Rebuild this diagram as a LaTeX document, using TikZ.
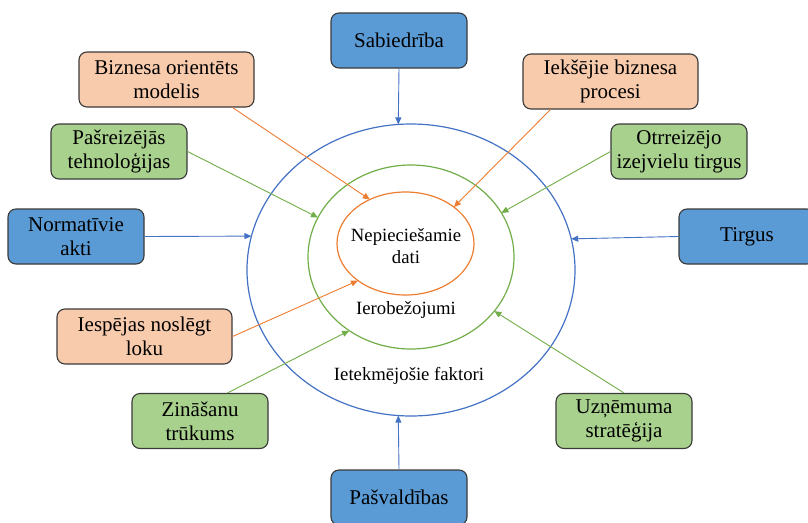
\documentclass[tikz,border=0pt]{standalone}
\usepackage{fontspec}
\setmainfont{Liberation Serif}
\newfontfamily\diagfont{Liberation Serif}
\usetikzlibrary{shapes.geometric,arrows.meta}
\definecolor{bluefill}{HTML}{5B9BD5}
\definecolor{orangefill}{HTML}{F8CBAD}
\definecolor{greenfill}{HTML}{A9D18E}
\definecolor{boxborder}{HTML}{3A3A3A}
\definecolor{blueline}{HTML}{4472C4}
\definecolor{orangeline}{HTML}{ED7D31}
\definecolor{greenline}{HTML}{70AD47}
\begin{document}
\begin{tikzpicture}[x=1pt,y=-1pt,
  box/.style={draw=boxborder, line width=1.1pt, rounded corners=8pt,
    minimum width=136pt, minimum height=55pt, inner sep=2pt, align=center,
    font=\diagfont\fontsize{21}{24}\selectfont, text=black},
  widebox/.style={box, minimum width=175pt},
  bluebox/.style={box, fill=bluefill},
  orangebox/.style={widebox, fill=orangefill},
  greenbox/.style={box, fill=greenfill},
  ring/.style={draw, ellipse, line width=1.2pt, inner sep=0pt, outer sep=0pt},
  ringtext/.style={font=\diagfont\fontsize{18.7}{22}\selectfont, align=center, inner sep=0pt},
  conn/.style={line width=0.9pt, -{Triangle[length=7pt,width=6pt]}},
]
\useasboundingbox (0,0) rectangle (808,522);

% rings
\node[ring, draw=blueline, minimum width=328pt, minimum height=292pt] (outer) at (411,270) {};
\node[ring, draw=greenline, minimum width=206pt, minimum height=184pt] (mid) at (411,257) {};
\node[ring, draw=orangeline, minimum width=137pt, minimum height=103pt] (core) at (405.5,243.5) {};

% ring texts
\node[ringtext] (dati) at (406,246) {\diagfont Nepiecie\v{s}amie\\\diagfont dati};
\node[ringtext] (ier) at (406,310) {\diagfont Ierobežojumi};
\node[ringtext] (iet) at (409,376) {\diagfont Ietekmējošie faktori};

% boxes
\node[bluebox] (sab) at (399,40.5) {\diagfont Sabiedrība};
\node[orangebox] (bom) at (166.5,79.5) {\diagfont Biznesa orientēts\\\diagfont modelis};
\node[greenbox] (pas) at (119,151.5) {\diagfont Pašreizējās\\\diagfont tehnoloģijas};
\node[bluebox] (norm) at (76,236.5) {\diagfont Normatīvie\\\diagfont akti};
\node[orangebox] (iek) at (610.5,81.5) {\diagfont Iekšējie biznesa\\\diagfont procesi};
\node[greenbox] (otr) at (679,151.5) {\diagfont Otrreizējo\\\diagfont izejvielu tirgus};
\node[bluebox] (tirg) at (747,236.5) {\diagfont Tirgus};
\node[orangebox] (iesp) at (144.5,336.5) {\diagfont Iespējas noslēgt\\\diagfont loku};
\node[greenbox] (zin) at (200,421) {\diagfont Zināšanu\\\diagfont trūkums};
\node[greenbox] (uzn) at (624,421) {\diagfont Uzņēmuma\\\diagfont stratēģija};
\node[bluebox] (pasv) at (399,497.5) {\diagfont Pašvaldības};

% connectors
\draw[conn, blueline] (sab.south) -- (outer.95);
\draw[conn, blueline] (pasv.north) -- (outer.265);
\draw[conn, blueline] (norm.east) -- (outer.168);
\draw[conn, blueline] (tirg.west) -- (outer.11);
\draw[conn, greenline] (pas.east) -- (mid.157);
\draw[conn, greenline] (otr.west) -- (mid.26);
\draw[conn, greenline] ([xshift=-41pt]zin.north east) -- (mid.230);
\draw[conn, greenline] (uzn.north) -- (mid.327);
\draw[conn, orangeline] ([xshift=-22pt]bom.south east) -- (core.129);
\draw[conn, orangeline] ([xshift=28pt]iek.south west) -- (core.37);
\draw[conn, orangeline] (iesp.east) -- (core.218);
\end{tikzpicture}
\end{document}
